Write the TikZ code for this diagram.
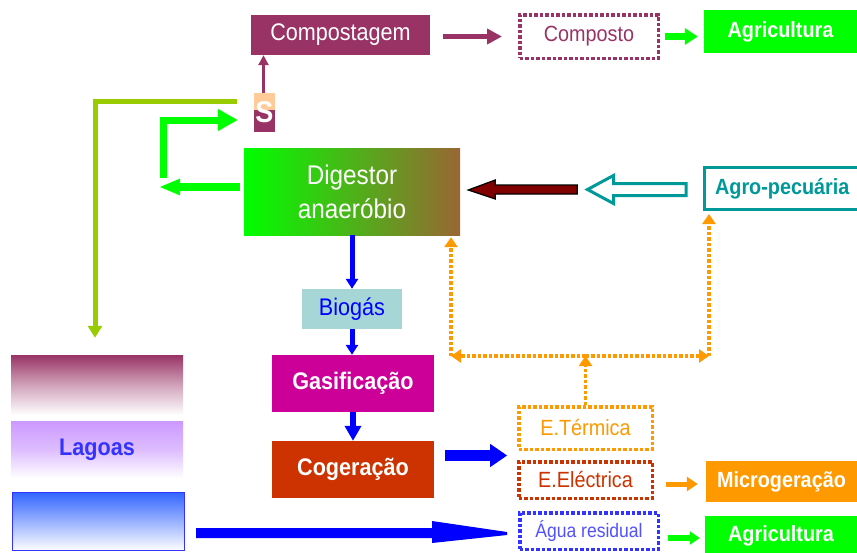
\documentclass[tikz,border=0pt]{standalone}
\usepackage{fontspec}
\setmainfont{Liberation Sans}[FakeStretch=0.9]
\usetikzlibrary{arrows.meta,calc}
\definecolor{cpurple}{HTML}{993366}
\definecolor{cgreen}{HTML}{00FF00}
\definecolor{cpeach}{HTML}{FFCC99}
\definecolor{cyg}{HTML}{99CC00}
\definecolor{cbrown}{HTML}{996633}
\definecolor{cdred}{HTML}{800000}
\definecolor{cteal}{HTML}{009999}
\definecolor{cblue}{HTML}{0000FF}
\definecolor{cbio}{HTML}{A6D6D6}
\definecolor{cmag}{HTML}{CC0099}
\definecolor{cred}{HTML}{CC3300}
\definecolor{corange}{HTML}{FF9900}
\definecolor{clav}{HTML}{CC99FF}
\definecolor{clblue}{HTML}{3366FF}
\definecolor{cwblue}{HTML}{3333FF}
\begin{document}
\begin{tikzpicture}[x=1pt,y=-1pt,
  box/.style={rectangle, inner sep=0pt, align=center},
  fa/.style={font=\fontsize{22}{26}\selectfont},
  fab/.style={font=\bfseries\fontsize{22}{26}\selectfont},
  fb/.style={font=\fontsize{24}{28}\selectfont},
  fbb/.style={font=\bfseries\fontsize{24}{28}\selectfont},
  dotb/.style={draw=#1, line width=3.5pt, dash pattern=on 3.5pt off 2pt, text=#1},
  odot/.style={corange, line width=3.5pt, dash pattern=on 3.5pt off 2pt},
  otip/.style={-{Triangle[length=10pt,width=13pt]}},
]
\useasboundingbox (0,0) rectangle (857,552);
\fill[white] (0,0) rectangle (857,552);

% ---------- nodes ----------
\node[box, fill=cpurple, text=white, fb, minimum width=179, minimum height=40] (comp) at (340.5,35) {Compostagem};
\node[box, dotb=cpurple, fa, minimum width=138.5, minimum height=43.5] (compo) at (589,36.5) {Composto};
\node[box, fill=cgreen, text=white, fab, minimum width=153, minimum height=43] (agr1) at (780.5,31.5) {Agricultura};

\node[box, fill=cpurple, minimum width=21, minimum height=39, text=white,
  font=\bfseries\fontsize{30}{32}\selectfont,
  path picture={\fill[cpeach] (path picture bounding box.north west) rectangle ([yshift=2.5pt]path picture bounding box.east);}]
  (S) at (264.5,112.5) {S};

\node[box, left color=cgreen, right color=cbrown, text=white, font=\fontsize{27}{34}\selectfont,
  minimum width=216, minimum height=87] (dig) at (352,191.5) {Digestor\\anaeróbio};

\node[box, draw=cteal, line width=3pt, text=cteal, fab, minimum width=155.5, minimum height=42] (agro) at (782.25,188.5) {Agro-pecuária};

\node[box, fill=cbio, text=cblue, fb, minimum width=100, minimum height=40] (bio) at (352,309) {Biogás};
\node[box, fill=cmag, text=white, fbb, minimum width=162, minimum height=57] (gas) at (353,383.5) {Gasificação};
\node[box, fill=cred, text=white, fbb, minimum width=162, minimum height=57] (cog) at (353,469.5) {Cogeração};

\node[box, top color=cpurple, bottom color=white, middle color=cpurple!45!white, minimum width=172, minimum height=60] (lag1) at (97,385) {};
\node[box, top color=clav, bottom color=white, middle color=clav!65!white, text=cwblue, fbb,
  minimum width=172, minimum height=57] (lag2) at (97,449.5) {\raisebox{4pt}{Lagoas}};
\node[box, top color=clblue, bottom color=white, draw=cwblue, line width=1pt,
  minimum width=172, minimum height=58] (lag3) at (98.5,521.5) {};

\node[box, dotb=corange, fa, minimum width=133.5, minimum height=42.5] (eterm) at (585.5,428) {E.Térmica};
\node[box, dotb=cred, fa, minimum width=133.5, minimum height=36.5] (eelec) at (585.5,480) {E.Eléctrica};
\node[box, dotb=cwblue, text=cwblue!85!white, font=\fontsize{19.5}{22}\selectfont,
  minimum width=138.5, minimum height=36.5] (agua) at (589,531) {Água residual};
\node[box, fill=corange, text=white, fab, minimum width=151, minimum height=41] (micro) at (781.5,481.5) {Microgeração};
\node[box, fill=cgreen, text=white, fab, minimum width=152, minimum height=40] (agr2) at (781,536) {Agricultura};

% ---------- connectors ----------
\draw[cpurple, line width=5pt, -{Triangle[length=15pt,width=15pt]}]
  ($(comp.east)+(13,1.5)$) -- ($(compo.west)+(-16,0)$);
\draw[cgreen, line width=7pt, -{Triangle[length=13pt,width=16pt]}]
  ($(compo.east)+(4.5,0)$) -- ($(agr1.west)+(-6,5)$);
\draw[cpurple, line width=3pt, -{Triangle[length=10pt,width=10pt]}]
  ($(S.north)+(-1,0)$) -- ($(S.north |- comp.south)+(-1,0)$);

\draw[cyg, line width=5pt, -{Triangle[length=12pt,width=14pt]}]
  ($(S.west)+(-17,-11.5)$) -| ($(lag1.north)+(-2,-17)$);

\coordinate (gb) at (163.5,178);
\draw[cgreen, line width=7pt, -{Triangle[length=20pt,width=21pt]}]
  (gb) |- ($(S.west)+(-16,7.5)$);
\coordinate (dl) at (159,187);
\draw[cgreen, line width=8pt, -{Triangle[length=21pt,width=15pt]}]
  (dig.west |- dl) ++(-4,0) -- (dl);

% dark red arrow agro -> digestor
\begin{scope}[shift={(dig.east)}]
  \draw[fill=cdred, draw=black, line width=1.2pt, line join=miter]
    (117,-6.5) -- (35,-6.5) -- (35,-11.5) -- (8,-1.5) -- (35,7.5) -- (35,2.5) -- (117,2.5) -- cycle;
\end{scope}
% hollow teal arrow
\begin{scope}[shift={(agro.west)}]
  \draw[fill=white, draw=cteal, line width=3pt, line join=miter]
    (-17,-5) -- (-89.5,-5) -- (-89.5,-13) -- (-115.5,1) -- (-89.5,15) -- (-89.5,7) -- (-17,7) -- cycle;
\end{scope}

\draw[cblue, line width=5pt, -{Triangle[length=10pt,width=12pt]}] (dig.south) -- (bio.north);
\draw[cblue, line width=5pt, -{Triangle[length=10pt,width=12pt]}] (bio.south) -- (bio.south |- gas.north);
\draw[cblue, line width=6pt, -{Triangle[length=15pt,width=16pt]}] (gas.south) -- (cog.north);

\draw[cblue, line width=11pt, -{Triangle[length=17pt,width=22pt]}]
  ($(cog.east)+(11,-14)$) -- ++(62,0);

\begin{scope}[shift={(lag3.east)}]
  \fill[cblue] (11,6.5) -- (247,6.5) -- (247,-0.5) -- (322,10.5) -- (322,13.5) -- (247,21.5) -- (247,16.5) -- (11,16.5) -- cycle;
\end{scope}

\draw[corange, line width=5pt, -{Triangle[length=11pt,width=14pt]}]
  ($(eelec.east)+(11.5,4)$) -- ($(micro.west)+(-8,2.5)$);
\draw[cgreen, line width=6pt, -{Triangle[length=10pt,width=13pt]}]
  ($(agua.east)+(7.5,7)$) -- ($(agr2.west)+(-5,2)$);

% orange dotted distribution
\coordinate (oj) at (585.5,356);
\coordinate (oL) at (451,356);
\coordinate (oR) at (709,356);
\draw[odot, otip] (eterm.north) -- (oj);
\draw[odot, otip] (oj) -- (oL);
\draw[odot, otip] (oj) -- (oR);
\draw[odot, otip] (oL) -- ($(oL |- dig.south)+(0,2)$);
\draw[odot, otip] (oR) -- ($(oR |- agro.south)+(0,3)$);
\end{tikzpicture}
\end{document}
